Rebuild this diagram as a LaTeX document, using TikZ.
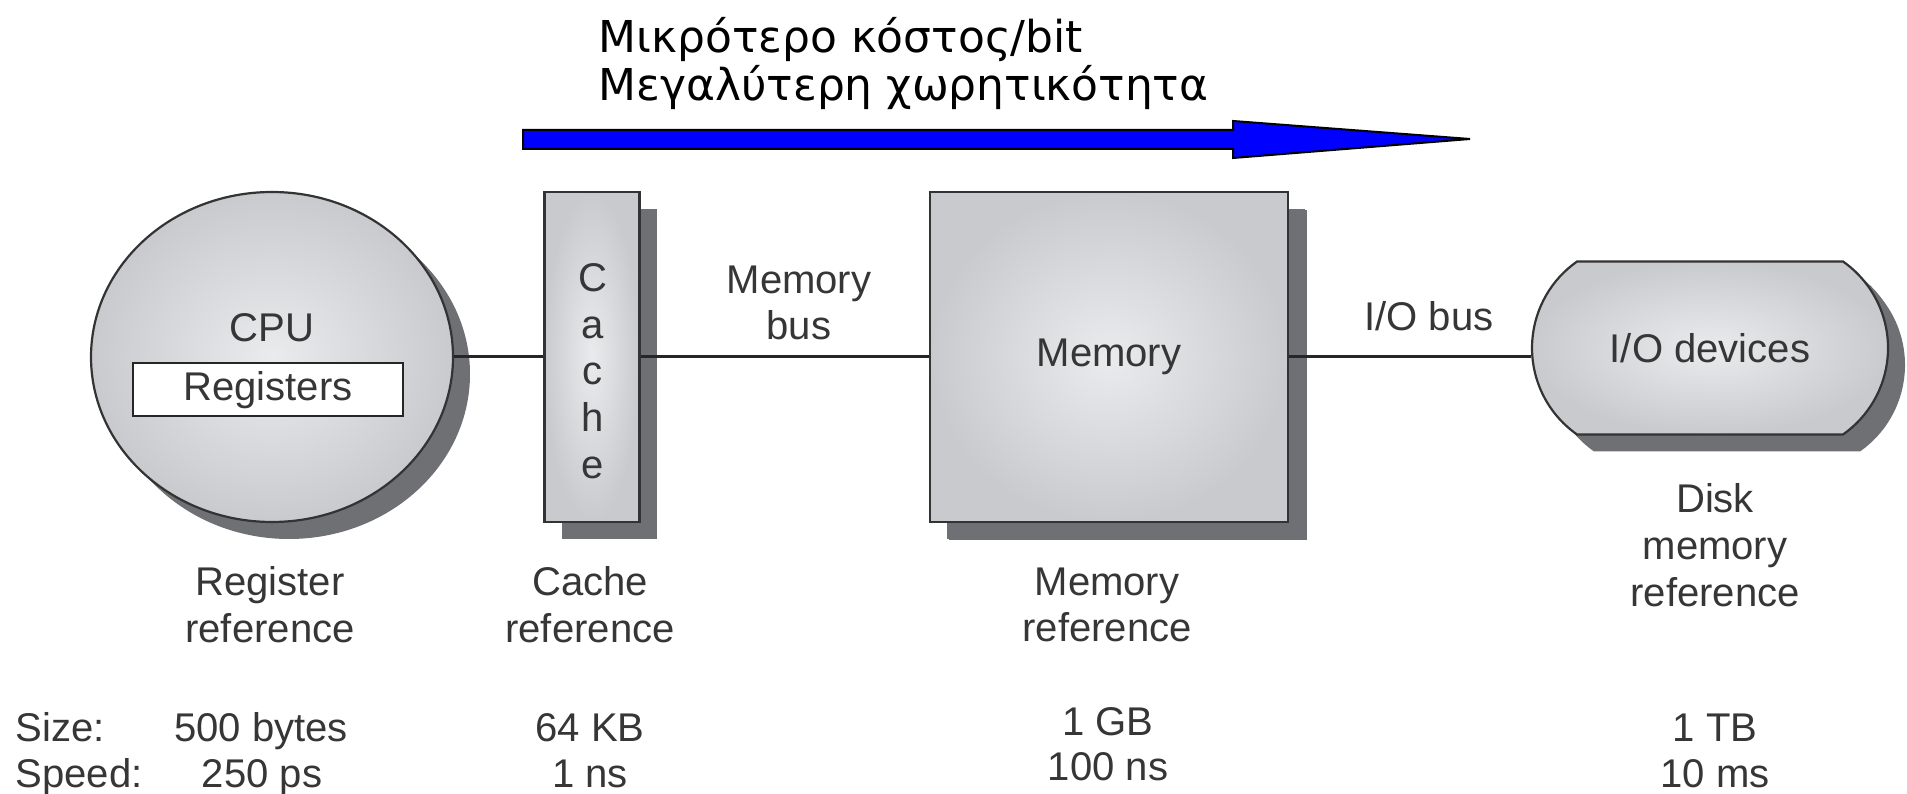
\documentclass[tikz,border=0pt]{standalone}
\usepackage{fontspec}
\setmainfont{Liberation Sans}
\newfontfamily\grfont{DejaVu Sans}
\usetikzlibrary{shapes.geometric,shapes.misc,shadows,positioning}
\definecolor{metallight}{HTML}{EAEBED}
\definecolor{metaldark}{HTML}{C9CACD}
\definecolor{shadowgray}{HTML}{6F7073}
\definecolor{labelgray}{HTML}{363636}

\begin{document}
\begin{tikzpicture}[x=0.1mm,y=-0.1mm,
  txt/.style={text=labelgray,font=\fontsize{11.4}{13.3}\selectfont,align=center,inner sep=0pt},
  unit/.style={txt,draw=black!80,line width=0.22mm,inner color=metallight,outer color=metaldark,
    drop shadow={shadow xshift=1.7mm,shadow yshift=-1.7mm,fill=shadowgray,opacity=1}},
  bus/.style={draw=black!85,line width=0.3mm}]
  \useasboundingbox (0,0) rectangle (1907,794);

  % cost / capacity arrow
  \filldraw[fill=blue,draw=black,line width=0.2mm] (523,130) -- (1233,130) -- (1233,121) -- (1470,139)
    -- (1233,158) -- (1233,149) -- (523,149) -- cycle;
  \node[anchor=north west,align=left,inner sep=0pt,font=\grfont\fontsize{12.5}{13.6}\selectfont] (title) at (598,17)
    {Μικρότερο κόστος/bit\\Μεγαλύτερη χωρητικότητα};

  % units
  \node[unit,ellipse,minimum width=36.2mm,minimum height=33mm,drop shadow={shadow xshift=1.5mm,shadow yshift=-1.5mm,fill=shadowgray,opacity=1}] (cpu) at (272,357) {};
  \node[txt] (cpulbl) at (272,328) {CPU};
  \node[txt,draw=black!85,fill=white,line width=0.2mm,minimum width=27mm,minimum height=5.3mm] (reg) at (268,390) {Registers};
  \node[unit,rectangle,minimum width=9.5mm,minimum height=33mm] (cache) at (592,357) {};
  \node[txt] (cachelbl) at (593,371) {C\\a\\c\\h\\e};
  \node[unit,rectangle,minimum width=35.8mm,minimum height=33mm,drop shadow={shadow xshift=1.9mm,shadow yshift=-1.8mm,fill=shadowgray,opacity=1}] (mem) at (1109,357) {Memory};
  \node[unit,rounded rectangle,rounded rectangle arc length=110,minimum width=35.6mm,minimum height=17.3mm,drop shadow={shadow xshift=1.4mm,shadow yshift=-1.3mm,fill=shadowgray,opacity=1}] (io) at (1710,348) {I/O devices};

  % buses
  \draw[bus] (cpu.east) -- (cache.west);
  \draw[bus] (cache.east) -- (mem.west);
  \draw[bus] (mem.east) -- (mem.east -| io.west);
  \node[txt] (membus) at (799,303) {Memory\\bus};
  \node[txt] (iobus) at (1429,316) {I/O bus};

  % references
  \node[txt] (regref) at (270,605) {Register\\reference};
  \node[txt] (cacheref) at (590,605) {Cache\\reference};
  \node[txt] (memref) at (1107,605) {Memory\\reference};
  \node[txt] (diskref) at (1715,545) {Disk\\memory\\reference};

  % size and speed
  \node[txt,anchor=base west] (size) at (15,741) {Size:};
  \node[txt,anchor=base west] (speed) at (15,787) {Speed:};
  \node[txt,anchor=base] (regsize) at (261,741) {500 bytes};
  \node[txt,anchor=base] (regspeed) at (262,787) {250 ps};
  \node[txt,anchor=base] (cachesize) at (590,741) {64 KB};
  \node[txt,anchor=base] (cachespeed) at (590,787) {1 ns};
  \node[txt,anchor=base] (memsize) at (1108,735) {1 GB};
  \node[txt,anchor=base] (memspeed) at (1108,780) {100 ns};
  \node[txt,anchor=base] (disksize) at (1715,741) {1 TB};
  \node[txt,anchor=base] (diskspeed) at (1715,787) {10 ms};
\end{tikzpicture}
\end{document}
